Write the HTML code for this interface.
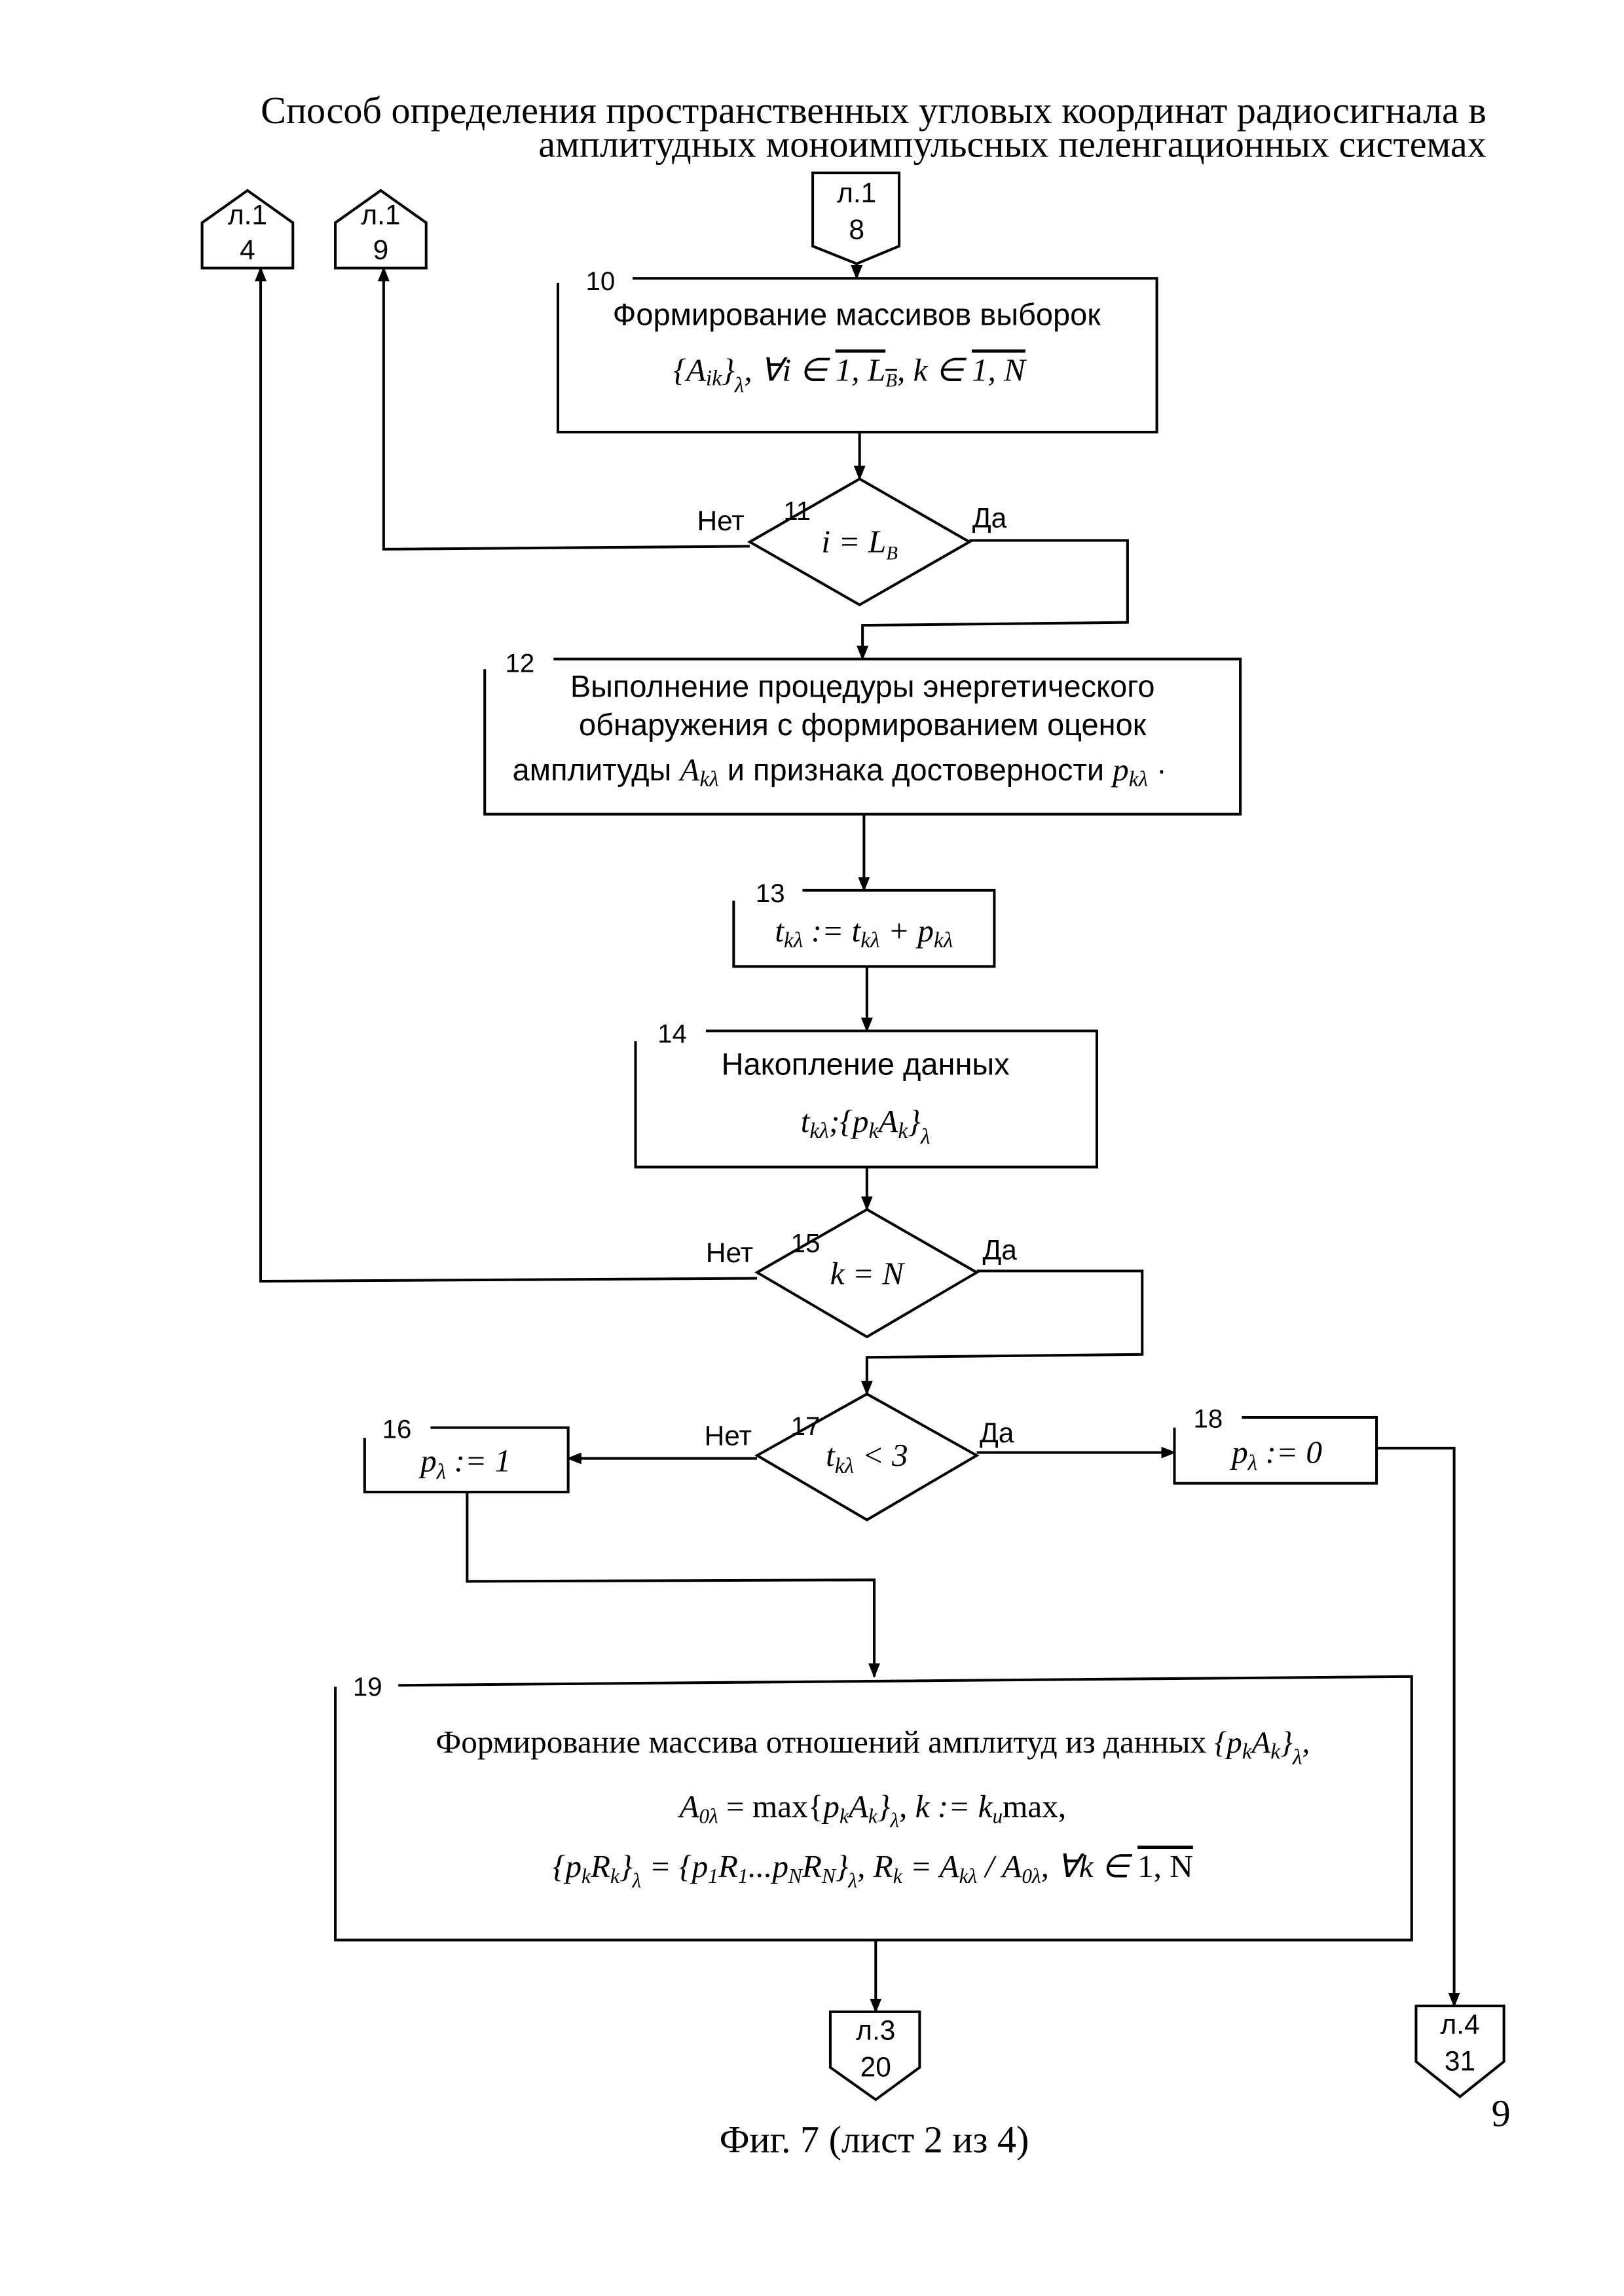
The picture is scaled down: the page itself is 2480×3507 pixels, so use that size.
<!DOCTYPE html>
<html><head><meta charset="utf-8"><style>
html,body{margin:0;padding:0;background:#fff;}
svg{display:block;}
.s{font-family:"Liberation Sans",sans-serif;font-size:21px;fill:#000;}
.c{font-family:"Liberation Sans",sans-serif;font-size:19px;fill:#000;}
.n{font-family:"Liberation Sans",sans-serif;font-size:18px;fill:#000;}
.m{font-family:"Liberation Serif",serif;font-style:italic;font-size:22px;fill:#000;}
.r{font-family:"Liberation Serif",serif;font-size:22px;fill:#000;}
.t{font-family:"Liberation Serif",serif;font-size:26px;fill:#000;}
</style></head><body>
<svg width="2480" height="3507" viewBox="0 0 1109 1568" xmlns="http://www.w3.org/2000/svg">
<defs><marker id="a" markerWidth="10" markerHeight="10" refX="9" refY="5" orient="auto" markerUnits="userSpaceOnUse"><path d="M0,1 L10,5 L0,9 Z" fill="#000"/></marker></defs>
<text class="t" x="1015" y="84" text-anchor="end">Способ определения пространственных угловых координат радиосигнала в</text>
<text class="t" x="1015" y="107" text-anchor="end">амплитудных моноимпульсных пеленгационных системах</text>
<g fill="none" stroke="#000" stroke-width="1.8">
<path d="M138,183 L138,152 L169,130 L200,152 L200,183 Z" fill="#fff"/>
<path d="M229,183 L229,152 L260,130 L291,152 L291,183 Z" fill="#fff"/>
<path d="M555,118 L614,118 L614,168 L585,180 L555,168 Z"/>
<path d="M567,1374 L628,1374 L628,1412 L598,1434 L567,1412 Z"/>
<path d="M967,1370 L1027,1370 L1027,1408 L997,1432 L967,1408 Z"/>
<path d="M381,197 L381,295 L790,295 L790,190 L432,190 M381,197 L381,193"/>
<path d="M331,457 L331,556 L847,556 L847,450 L378,450"/>
<path d="M501,615 L501,660 L679,660 L679,608 L548,608"/>
<path d="M434,711 L434,797 L749,797 L749,704 L482,704"/>
<path d="M249,982 L249,1019 L388,1019 L388,975 L294,975"/>
<path d="M802,975 L802,1013 L940,1013 L940,968 L848,968"/>
<path d="M229,1152 L229,1325 L964,1325 L964,1145 L272,1151"/>
<path d="M587,327 L662,370 L587,413 L512,370 Z"/>
<path d="M592,826 L667,869 L592,913 L517,869 Z"/>
<path d="M592,952 L667,994 L592,1038 L517,994 Z"/>
<path d="M585,180 L585,190" marker-end="url(#a)"/>
<path d="M587,295 L587,327" marker-end="url(#a)"/>
<path d="M512,373 L262,375 L262,183" marker-end="url(#a)"/>
<path d="M662,369 L770,369 L770,425 L589,427 L589,450" marker-end="url(#a)"/>
<path d="M590,556 L590,608" marker-end="url(#a)"/>
<path d="M592,660 L592,704" marker-end="url(#a)"/>
<path d="M592,797 L592,826" marker-end="url(#a)"/>
<path d="M517,873 L178,875 L178,183" marker-end="url(#a)"/>
<path d="M667,868 L780,868 L780,925 L592,927 L592,952" marker-end="url(#a)"/>
<path d="M517,996 L388,996" marker-end="url(#a)"/>
<path d="M667,992 L802,992" marker-end="url(#a)"/>
<path d="M940,989 L993,989 L993,1370" marker-end="url(#a)"/>
<path d="M319,1019 L319,1080 L597,1079 L597,1145" marker-end="url(#a)"/>
<path d="M598,1325 L598,1374" marker-end="url(#a)"/>
</g>
<text class="c" x="169" y="153" text-anchor="middle">л.1</text><text class="c" x="169" y="177" text-anchor="middle">4</text>
<text class="c" x="260" y="153" text-anchor="middle">л.1</text><text class="c" x="260" y="177" text-anchor="middle">9</text>
<text class="c" x="585" y="138" text-anchor="middle">л.1</text><text class="c" x="585" y="163" text-anchor="middle">8</text>
<text class="c" x="598" y="1393" text-anchor="middle">л.3</text><text class="c" x="598" y="1418" text-anchor="middle">20</text>
<text class="c" x="997" y="1389" text-anchor="middle">л.4</text><text class="c" x="997" y="1414" text-anchor="middle">31</text>
<text class="n" x="400" y="198">10</text>
<text class="n" x="345" y="459">12</text>
<text class="n" x="516" y="616">13</text>
<text class="n" x="449" y="712">14</text>
<text class="n" x="261" y="982">16</text>
<text class="n" x="815" y="975">18</text>
<text class="n" x="241" y="1158">19</text>
<text class="n" x="535" y="355">11</text>
<text class="n" x="540" y="855">15</text>
<text class="n" x="540" y="980">17</text>
<text class="c" x="476" y="362">Нет</text><text class="c" x="664" y="360">Да</text>
<text class="c" x="482" y="862">Нет</text><text class="c" x="671" y="860">Да</text>
<text class="c" x="481" y="987">Нет</text><text class="c" x="669" y="985">Да</text>
<text class="s" x="585" y="222" text-anchor="middle">Формирование массивов выборок</text>
<text class="m" x="580" y="260" text-anchor="middle"><tspan class="r">{</tspan>A<tspan font-size="15" dy="3">ik</tspan><tspan class="r" dy="-3">}</tspan><tspan font-size="15" dy="8">λ</tspan><tspan dy="-8">, ∀i ∈ </tspan><tspan class="r" text-decoration="overline">1, L<tspan font-size="13" dy="4">B</tspan></tspan><tspan dy="-4">, k ∈ </tspan><tspan class="r" text-decoration="overline">1, N</tspan></text>
<text class="m" x="587" y="377" text-anchor="middle">i = L<tspan font-size="13" dy="5">B</tspan></text>
<text class="s" x="589" y="476" text-anchor="middle">Выполнение процедуры энергетического</text>
<text class="s" x="589" y="502" text-anchor="middle">обнаружения с формированием оценок</text>
<text class="s" x="350" y="533">амплитуды <tspan class="m">A<tspan font-size="15" dy="4">kλ</tspan></tspan><tspan dy="-4"> и признака достоверности </tspan><tspan class="m">p<tspan font-size="15" dy="4">kλ</tspan></tspan><tspan dy="-4"> ·</tspan></text>
<text class="m" x="590" y="643" text-anchor="middle">t<tspan font-size="15" dy="4">kλ</tspan><tspan dy="-4"> := t</tspan><tspan font-size="15" dy="4">kλ</tspan><tspan dy="-4"> + p</tspan><tspan font-size="15" dy="4">kλ</tspan></text>
<text class="s" x="591" y="734" text-anchor="middle">Накопление данных</text>
<text class="m" x="591" y="773" text-anchor="middle">t<tspan font-size="15" dy="4">kλ</tspan><tspan dy="-4">;{p</tspan><tspan font-size="15" dy="4">k</tspan><tspan dy="-4">A</tspan><tspan font-size="15" dy="4">k</tspan><tspan dy="-4">}</tspan><tspan font-size="15" dy="8">λ</tspan></text>
<text class="m" x="592" y="877" text-anchor="middle">k = N</text>
<text class="m" x="592" y="1001" text-anchor="middle">t<tspan font-size="15" dy="5">kλ</tspan><tspan dy="-5"> &lt; 3</tspan></text>
<text class="m" x="318" y="1005" text-anchor="middle">p<tspan font-size="15" dy="5">λ</tspan><tspan dy="-5"> := 1</tspan></text>
<text class="m" x="872" y="999" text-anchor="middle">p<tspan font-size="15" dy="5">λ</tspan><tspan dy="-5"> := 0</tspan></text>
<text class="r" x="596" y="1197" text-anchor="middle" font-size="20">Формирование массива отношений амплитуд из данных <tspan font-style="italic" font-size="21">{p<tspan font-size="15" dy="4">k</tspan><tspan dy="-4">A</tspan><tspan font-size="15" dy="4">k</tspan><tspan dy="-4">}</tspan><tspan font-size="15" dy="8">λ</tspan><tspan dy="-8">,</tspan></tspan></text>
<text class="m" x="596" y="1241" text-anchor="middle" font-size="20">A<tspan font-size="14" dy="4">0λ</tspan><tspan dy="-4" font-style="normal"> = max{</tspan>p<tspan font-size="14" dy="4">k</tspan><tspan dy="-4">A</tspan><tspan font-size="14" dy="4">k</tspan><tspan dy="-4">}</tspan><tspan font-size="14" dy="7">λ</tspan><tspan dy="-7">, k := k</tspan><tspan font-size="14" dy="4">u</tspan><tspan dy="-4" font-style="normal">max,</tspan></text>
<text class="m" x="596" y="1282" text-anchor="middle" font-size="20">{p<tspan font-size="14" dy="4">k</tspan><tspan dy="-4">R</tspan><tspan font-size="14" dy="4">k</tspan><tspan dy="-4">}</tspan><tspan font-size="14" dy="7">λ</tspan><tspan dy="-7"> = {p</tspan><tspan font-size="14" dy="4">1</tspan><tspan dy="-4">R</tspan><tspan font-size="14" dy="4">1</tspan><tspan dy="-4">...p</tspan><tspan font-size="14" dy="4">N</tspan><tspan dy="-4">R</tspan><tspan font-size="14" dy="4">N</tspan><tspan dy="-4">}</tspan><tspan font-size="14" dy="7">λ</tspan><tspan dy="-7">, R</tspan><tspan font-size="14" dy="4">k</tspan><tspan dy="-4"> = A</tspan><tspan font-size="14" dy="4">kλ</tspan><tspan dy="-4"> / A</tspan><tspan font-size="14" dy="4">0λ</tspan><tspan dy="-4">, ∀k ∈ </tspan><tspan text-decoration="overline" font-style="normal">1, N</tspan></text>
<text class="t" x="1025" y="1452" text-anchor="middle">9</text>
<text class="t" x="597" y="1470" text-anchor="middle">Фиг. 7 (лист 2 из 4)</text>
</svg>
</body></html>
